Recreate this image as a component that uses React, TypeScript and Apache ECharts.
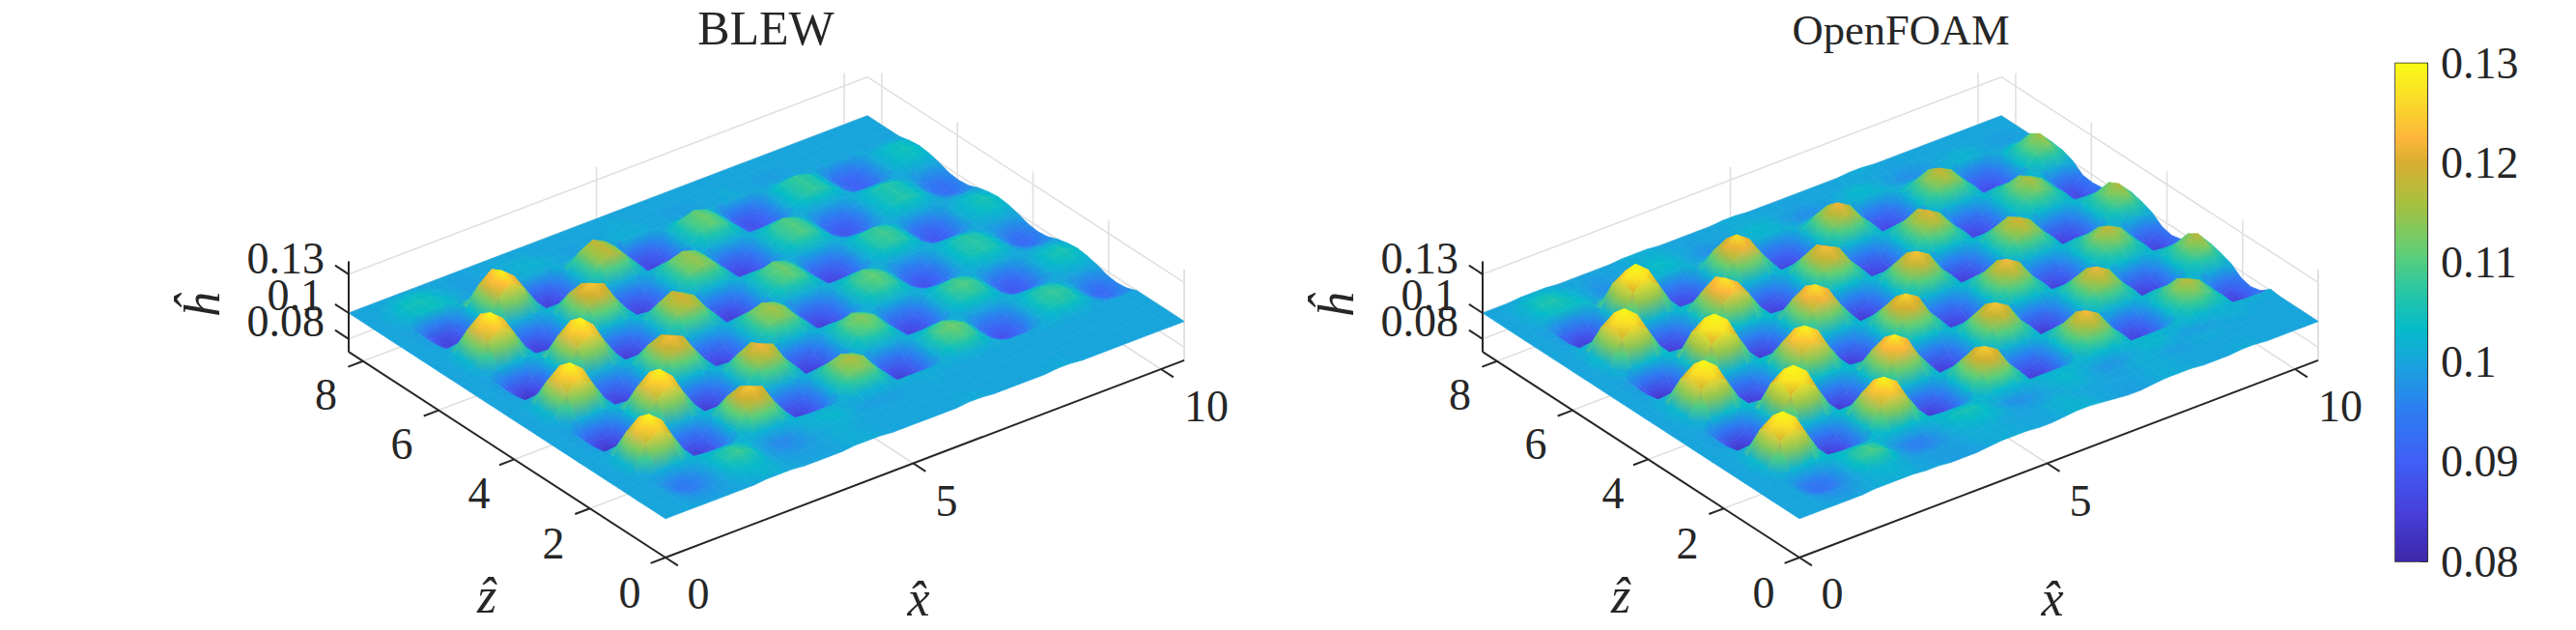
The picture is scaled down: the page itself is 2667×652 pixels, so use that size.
import React, { useEffect, useRef } from "react";
import * as echarts from "echarts";

const xs = [0,.255,.51,.765,1.02,1.275,1.53,1.785,2.04,2.295,2.55,2.805,3.06,3.315,3.57,3.825,4.08,4.335,4.59,4.845,5.1,5.355,5.61,5.865,6.12,6.375,6.63,6.885,7.14,7.395,7.65,7.905,8.16,8.415,8.67,8.925,9.18,9.435,9.69,9.945,10.2,10.47];
const zs = [0,.473,.734,.996,1.257,1.519,1.78,2.04,2.30,2.57,2.83,3.09,3.35,3.61,3.87,4.13,4.40,4.66,4.92,5.18,5.44,5.70,5.97,6.23,6.49,6.75,7.01,7.27,7.54,7.80,8.06,8.378];
const xTicks = [0, 5, 10];
const zTicks = [0, 2, 4, 6, 8];
const hTicks = [0.08, 0.1, 0.13];
const barTicks = [0.08, 0.09, 0.1, 0.11, 0.12, 0.13];
const titles = ["BLEW", "OpenFOAM"];

// Surface heights in thousandths, one array per row of constant z
const bFlat = [100,100,100,100,100,100,100,100,100,100,100,100,100,100,100,100,100,100,100,100,100,100,100,100,100,100,100,100,100,100,100,100,100,100,100,100,100,100,100,100,100,100];
const b0 = [100,100,100,100,100,100,100,100,101,101,101,100,100,100,100,101,101,101,100,100,100,100,100,100,101,101,100,100,100,100,100,101,101,100,100,100,100,100,100,100,100,100];
const b1 = [100,100,100,98,97,98,100,103,104,103,100,99,99,99,100,101,101,100,100,100,100,100,100,100,100,100,100,100,100,100,100,100,100,100,100,100,100,100,100,100,100,100];
const b2 = [100,100,100,96,94,96,100,106,109,106,100,98,97,98,100,101,102,101,100,100,100,100,100,100,100,100,100,100,100,100,100,100,100,100,100,100,100,100,100,100,100,100];
const b3 = [100,100,100,97,95,97,101,105,107,105,101,98,96,98,101,102,103,102,100,99,99,99,100,100,101,100,100,100,100,100,100,100,100,100,100,100,100,100,100,100,100,100];
const bN = [100,100,100,101,102,102,102,101,101,101,102,102,102,102,102,101,101,101,101,102,102,102,101,101,101,101,101,101,102,101,101,100,100,100,101,101,101,101,100,100,100,100];
const bA7 = [100,100,102,117,125,118,102,92,88,92,102,115,119,115,102,92,88,92,102,111,114,111,102,92,88,92,101,107,110,107,101,94,91,94,101,105,107,105,101,96,94,97];
const bB7 = [100,100,99,91,87,91,103,117,125,117,102,91,87,91,102,113,118,113,102,91,88,91,101,108,111,108,101,92,89,92,101,106,108,106,101,94,91,94,101,103,104,102];
const bA = [100,100,103,123,132,124,103,89,83,89,103,120,124,120,102,89,84,89,102,114,117,114,102,89,84,89,102,110,112,110,101,91,87,91,101,107,108,107,101,94,91,96];
const bB = [100,100,99,87,81,87,103,123,132,123,103,88,82,88,102,118,122,118,102,88,83,88,102,111,114,111,101,89,85,89,101,108,110,108,101,92,88,92,101,105,106,103];
const bA2 = [100,100,103,123,132,124,103,89,83,89,103,119,123,119,102,89,84,89,102,113,116,113,102,89,84,89,102,109,111,109,101,91,87,91,101,106,107,106,101,94,91,96];
const bB2 = [100,100,99,87,81,87,103,123,132,123,103,88,82,88,102,116,120,116,102,88,83,88,102,109,112,109,101,89,85,89,101,107,109,107,101,92,88,92,101,104,106,103];
const bA3 = [100,100,103,122,131,123,103,89,83,89,103,120,124,120,102,89,84,89,102,112,115,112,102,89,85,89,102,108,110,108,101,91,88,91,101,105,106,105,101,94,92,96];
const bB3 = [100,100,99,89,84,89,103,121,129,121,102,89,84,89,102,114,118,114,102,89,85,89,102,109,112,109,101,91,87,91,101,106,108,106,101,93,90,93,101,104,105,103];
const b28 = [100,100,101,103,104,104,102,100,100,100,101,101,101,101,101,100,100,100,100,101,101,101,100,100,100,100,100,100,101,100,100,100,100,100,100,100,100,100,100,100,100,100];
const b29 = [100,100,102,105,105,104,102,100,99,99,100,101,102,102,101,100,99,100,100,101,101,101,100,100,99,99,100,100,101,100,100,99,99,100,100,100,100,100,100,100,100,100];
const b30 = [100,100,101,103,104,103,101,100,99,100,100,101,101,101,100,100,100,100,100,100,101,100,100,100,100,100,100,100,100,100,100,100,100,100,100,100,100,100,100,100,100,100];
const blewRows = [b0,b1,b2,b3,bN,bA7,bA,bA7,bN,bB7,bB,bB7,bN,bA7,bA2,bA7,bN,bB7,bB2,bB7,bN,bA7,bA3,bA7,bN,bB7,bB3,bB7,b28,b29,b30,bFlat];

const f0 = [100,100,100,100,100,100,101,101,101,101,100,100,99,99,99,100,101,101,101,100,100,101,102,102,101,100,99,99,100,101,101,101,100,100,100,101,101,100,100,100,100,100];
const f1 = [100,100,100,98,97,98,100,102,103,102,100,99,99,99,100,101,101,101,100,100,100,101,102,101,100,100,100,100,100,101,101,100,100,100,100,100,100,100,100,100,100,100];
const f2 = [100,100,100,95,93,95,100,107,110,107,100,97,96,97,100,102,103,103,102,100,99,99,100,101,102,101,100,99,100,101,101,100,99,100,101,101,100,100,100,100,100,100];
const f3 = [100,100,100,96,94,96,101,106,108,106,100,97,95,97,101,104,106,105,102,99,97,98,100,102,103,102,100,98,98,100,102,103,102,100,99,99,100,101,101,100,100,100];
const fN = [100,100,101,102,103,103,103,102,102,102,103,103,103,103,103,102,102,102,102,103,103,103,102,102,102,102,102,103,103,103,102,102,102,102,102,103,103,102,102,101,101,101];
const fA7 = [100,100,102,119,126,120,103,91,87,91,103,117,124,118,103,91,87,91,103,114,119,114,103,91,88,91,103,112,117,112,103,92,88,92,103,109,113,109,103,92,88,95];
const fB7 = [100,100,99,91,86,91,103,120,127,120,103,91,86,91,103,116,122,116,103,91,87,91,103,113,118,113,103,91,87,91,103,112,116,112,103,91,88,91,103,109,113,104];
const fA = [100,100,104,125,134,126,104,88,82,88,104,123,131,124,103,88,82,88,103,119,125,119,103,88,83,88,103,117,123,117,103,89,84,89,103,113,118,113,103,89,84,93];
const fB = [100,100,99,87,81,87,104,127,135,127,104,87,81,87,103,122,129,122,103,88,82,88,103,118,124,118,103,88,82,88,103,116,122,116,103,88,83,88,103,113,118,106];
const fA2 = [100,100,104,125,134,126,104,88,82,88,104,123,131,124,103,88,82,88,103,120,126,120,103,88,83,88,103,117,123,117,103,89,84,89,103,114,119,114,103,89,84,93];
const fB2 = [100,100,99,87,81,87,104,127,135,127,104,87,81,87,103,121,128,121,103,88,82,88,103,118,124,118,103,88,83,88,103,115,120,115,103,88,83,88,103,112,117,106];
const fA3 = [100,100,104,125,134,126,104,88,82,88,104,121,128,121,103,88,83,88,103,118,123,118,103,88,84,88,103,115,121,115,103,89,85,89,103,112,117,112,103,90,86,94];
const fB3 = [100,100,99,88,83,88,104,126,134,126,103,88,83,88,103,120,127,120,103,88,84,88,103,116,122,116,103,89,85,89,103,114,119,114,103,90,86,90,103,111,116,105];
const f27 = [100,100,99,92,89,92,102,118,124,118,102,92,89,92,102,114,119,114,102,92,90,92,102,111,115,111,102,93,90,93,102,109,113,109,102,93,91,93,102,107,111,103];
const f28 = [100,100,101,103,104,104,102,100,100,100,101,102,102,102,101,100,100,100,101,102,102,102,101,100,100,100,101,102,102,102,101,100,100,100,101,102,102,101,100,100,100,100];
const f29 = [100,100,102,106,106,104,102,99,97,98,100,102,104,103,101,99,97,98,100,102,103,102,100,98,97,98,100,102,103,102,100,98,97,98,100,101,102,101,100,99,99,100];
const f30 = [100,100,102,104,105,103,101,100,98,99,100,101,102,102,101,100,99,100,100,101,101,101,100,100,99,100,100,100,101,100,100,100,99,100,100,100,100,100,100,100,100,100];
const f31 = [100,100,100,101,101,101,100,100,100,100,100,101,101,101,100,100,100,100,100,101,101,100,100,100,100,100,100,100,100,101,101,100,100,100,100,100,100,100,100,100,100,100];
const foamRows = [f0,f1,f2,f3,fN,fA7,fA,fA7,fN,fB7,fB,fB7,fN,fA7,fA2,fA7,fN,fB7,fB2,fB7,fN,fA7,fA3,fA7,fN,fB7,fB3,f27,f28,f29,f30,f31];

const parula: [number, string][] = [
  [0, "#3e26a8"], [0.1, "#4740dc"], [0.2, "#3f5ff5"], [0.3, "#2d7cf2"], [0.4, "#18a5dc"],
  [0.47, "#05bcc8"], [0.55, "#2dc7a0"], [0.62, "#60cf75"], [0.72, "#a8c03f"], [0.8, "#d8ae2f"],
  [0.85, "#fdb63b"], [0.92, "#fad82a"], [1, "#f9fb15"],
];
const rgb = (c: string) => [1, 3, 5].map((k) => parseInt(c.slice(k, k + 2), 16));
function colorAt(h: number) {
  const t = Math.max(0, Math.min(1, (h - 0.08) / 0.05));
  for (let k = 1; k < parula.length; k++) {
    if (t <= parula[k][0]) {
      const [t0, c0] = parula[k - 1];
      const [t1, c1] = parula[k];
      const f = (t - t0) / (t1 - t0);
      const a = rgb(c0), b = rgb(c1);
      return `rgb(${a.map((v, n) => Math.round(v + (b[n] - v) * f)).join(",")})`;
    }
  }
  return parula[parula.length - 1][1];
}

const XMAX = 10.47, ZMAX = 8.378, HMIN = 0.07, HTOP = 0.14;
const O = [689, 577];
const project = (dx: number) => (x: number, z: number, h: number): [number, number] => [
  O[0] + dx + 51.3 * x - 39.15 * z,
  O[1] - 19.5 * x - 25.4 * z - (h - HMIN) * 1340,
];

function cellShape(p: ReturnType<typeof project>, rows: number[][], i: number, j: number) {
  const v = [rows[j][i], rows[j][i + 1], rows[j + 1][i + 1], rows[j + 1][i]].map((n) => n / 1000);
  const q = [p(xs[i], zs[j], v[0]), p(xs[i + 1], zs[j], v[1]), p(xs[i + 1], zs[j + 1], v[2]), p(xs[i], zs[j + 1], v[3])];
  const e1 = [(q[1][0] + q[2][0] - q[0][0] - q[3][0]) / 2, (q[1][1] + q[2][1] - q[0][1] - q[3][1]) / 2];
  const e2 = [(q[2][0] + q[3][0] - q[0][0] - q[1][0]) / 2, (q[2][1] + q[3][1] - q[0][1] - q[1][1]) / 2];
  const d1 = (v[1] + v[2] - v[0] - v[3]) / 2;
  const d2 = (v[2] + v[3] - v[0] - v[1]) / 2;
  const det = e1[0] * e2[1] - e1[1] * e2[0];
  const mean = (v[0] + v[1] + v[2] + v[3]) / 4;
  let fill: any = colorAt(mean);
  if (Math.abs(det) > 15 && (d1 !== 0 || d2 !== 0)) {
    const gx = (d1 * e2[1] - d2 * e1[1]) / det;
    const gy = (e1[0] * d2 - e2[0] * d1) / det;
    const g2 = gx * gx + gy * gy;
    const lo = Math.min(...v), hi = Math.max(...v);
    const cx = (q[0][0] + q[1][0] + q[2][0] + q[3][0]) / 4;
    const cy = (q[0][1] + q[1][1] + q[2][1] + q[3][1]) / 4;
    fill = {
      type: "linear", global: true,
      x: cx + (gx * (lo - mean)) / g2, y: cy + (gy * (lo - mean)) / g2,
      x2: cx + (gx * (hi - mean)) / g2, y2: cy + (gy * (hi - mean)) / g2,
      colorStops: [0, 0.5, 1].map((o) => ({ offset: o, color: colorAt(lo + (hi - lo) * o) })),
    };
  }
  return { points: q, fill };
}

function surfaceSeries(rows: number[][], dx: number) {
  const p = project(dx);
  const cells: number[][] = [];
  for (let i = xs.length - 2; i >= 0; i--) for (let j = zs.length - 2; j >= 0; j--) cells.push([i, j]);
  return {
    type: "custom", coordinateSystem: "none", silent: true, z: 3, data: cells,
    renderItem: (_: any, api: any) => {
      const c = cellShape(p, rows, api.value(0), api.value(1));
      return { type: "polygon", shape: { points: c.points }, style: { fill: c.fill, stroke: c.fill, lineWidth: 0.7 } };
    },
  };
}

function lineSeries(lines: number[][][], color: string, width: number, z: number) {
  return {
    type: "custom", coordinateSystem: "none", silent: true, z, data: lines.map((_, n) => [n]),
    renderItem: (_: any, api: any) => {
      const l = lines[api.value(0)];
      return { type: "line", shape: { x1: l[0][0], y1: l[0][1], x2: l[1][0], y2: l[1][1] }, style: { stroke: color, lineWidth: width } };
    },
  };
}

function gridLines(dx: number) {
  const p = project(dx);
  const out: number[][][] = [];
  for (const x of xTicks) {
    out.push([p(x, 0, HMIN), p(x, ZMAX, HMIN)]);
    out.push([p(x, ZMAX, HMIN), p(x, ZMAX, HTOP)]);
  }
  for (const z of zTicks) {
    out.push([p(0, z, HMIN), p(XMAX, z, HMIN)]);
    out.push([p(XMAX, z, HMIN), p(XMAX, z, HTOP)]);
  }
  out.push([p(XMAX, 0, HMIN), p(XMAX, 0, HTOP)]);
  for (const h of hTicks) {
    out.push([p(0, ZMAX, h), p(XMAX, ZMAX, h)]);
    out.push([p(XMAX, ZMAX, h), p(XMAX, 0, h)]);
  }
  return out;
}

function axisLines(dx: number) {
  const p = project(dx);
  const out: number[][][] = [
    [p(0, ZMAX, HMIN), p(0, ZMAX, HTOP)],
    [p(0, 0, HMIN), p(0, ZMAX, HMIN)],
    [p(0, 0, HMIN), p(XMAX, 0, HMIN)],
  ];
  for (const x of xTicks) out.push([p(x, 0, HMIN), p(x, -0.33, HMIN)]);
  for (const z of zTicks) out.push([p(0, z, HMIN), p(-0.3, z, HMIN)]);
  for (const h of hTicks) out.push([p(0, ZMAX, h), p(0, ZMAX + 0.36, h)]);
  return out;
}

const SERIF = "'Liberation Serif', serif";
const INK = "#262626";
function label(text: string, x: number, y: number, size = 46, align = "center", italic = false) {
  return {
    type: "text", x, y, silent: true,
    style: {
      text, fill: INK, textAlign: align, textVerticalAlign: "middle",
      font: `${italic ? "italic " : ""}${size}px ${SERIF}`,
    },
  };
}

function panelLabels(dx: number) {
  return [
    label("8", 337.5 + dx, 408), label("6", 416 + dx, 459), label("4", 496 + dx, 510),
    label("2", 573 + dx, 562), label("0", 652 + dx, 613),
    label("0", 723 + dx, 614), label("5", 980 + dx, 518), label("10", 1249 + dx, 420),
    label("0.13", 336 + dx, 267, 46, "right"), label("0.1", 334 + dx, 305, 46, "right"), label("0.08", 336 + dx, 332, 46, "right"),
    label("\u1E91", 504 + dx, 616, 52, "center", true),
    label("x\u0302", 951 + dx, 619, 52, "center", true),
    { ...label("\u0125", 209 + dx, 316, 52, "center", true), rotation: Math.PI / 2 },
  ];
}

export default function App() {
  const ref = useRef<HTMLDivElement>(null);
  useEffect(() => {
    const chart = echarts.init(ref.current!, undefined, { renderer: "svg" });
    const DX = 1174;
    chart.setOption({
      animation: false,
      backgroundColor: "#ffffff",
      grid: { left: 2480, top: 65.5, width: 33, height: 515.5, show: true, borderColor: INK, borderWidth: 1.5, backgroundColor: "transparent" },
      xAxis: { type: "category", data: ["bar"], show: false },
      yAxis: {
        type: "value", position: "right", min: 0.08, max: 0.13, interval: 0.01,
        axisLine: { show: true, onZero: false, lineStyle: { color: INK, width: 1.5 } },
        axisTick: { show: true, inside: true, length: 7, lineStyle: { color: INK, width: 1.5 } },
        splitLine: { show: false },
        axisLabel: {
          margin: 14, color: INK, fontFamily: "Liberation Serif", fontSize: 46,
          formatter: (v: number) => barTicks.filter((t) => Math.abs(t - v) < 1e-6).map((t) => String(t))[0] ?? "",
        },
      },
      graphic: {
        elements: [
          label(titles[0], 793, 29, 50),
          label(titles[1], 1968, 31, 44.5),
          ...panelLabels(0),
          ...panelLabels(DX),
        ],
      },
      series: [
        lineSeries(gridLines(0), "#e0e0e0", 1.6, 1),
        lineSeries(gridLines(DX), "#e0e0e0", 1.6, 1),
        surfaceSeries(blewRows, 0),
        surfaceSeries(foamRows, DX),
        lineSeries(axisLines(0), INK, 2, 4),
        lineSeries(axisLines(DX), INK, 2, 4),
        {
          type: "bar", z: 2, barWidth: "100%", data: [0.13], silent: true,
          itemStyle: {
            color: {
              type: "linear", x: 0, y: 1, x2: 0, y2: 0,
              colorStops: parula.map(([offset, color]) => ({ offset, color })),
            },
          },
        },
      ],
    });
    return () => chart.dispose();
  }, []);
  return <div ref={ref} style={{ position: "absolute", left: 0, top: 0, width: 2667, height: 652 }} />;
}
